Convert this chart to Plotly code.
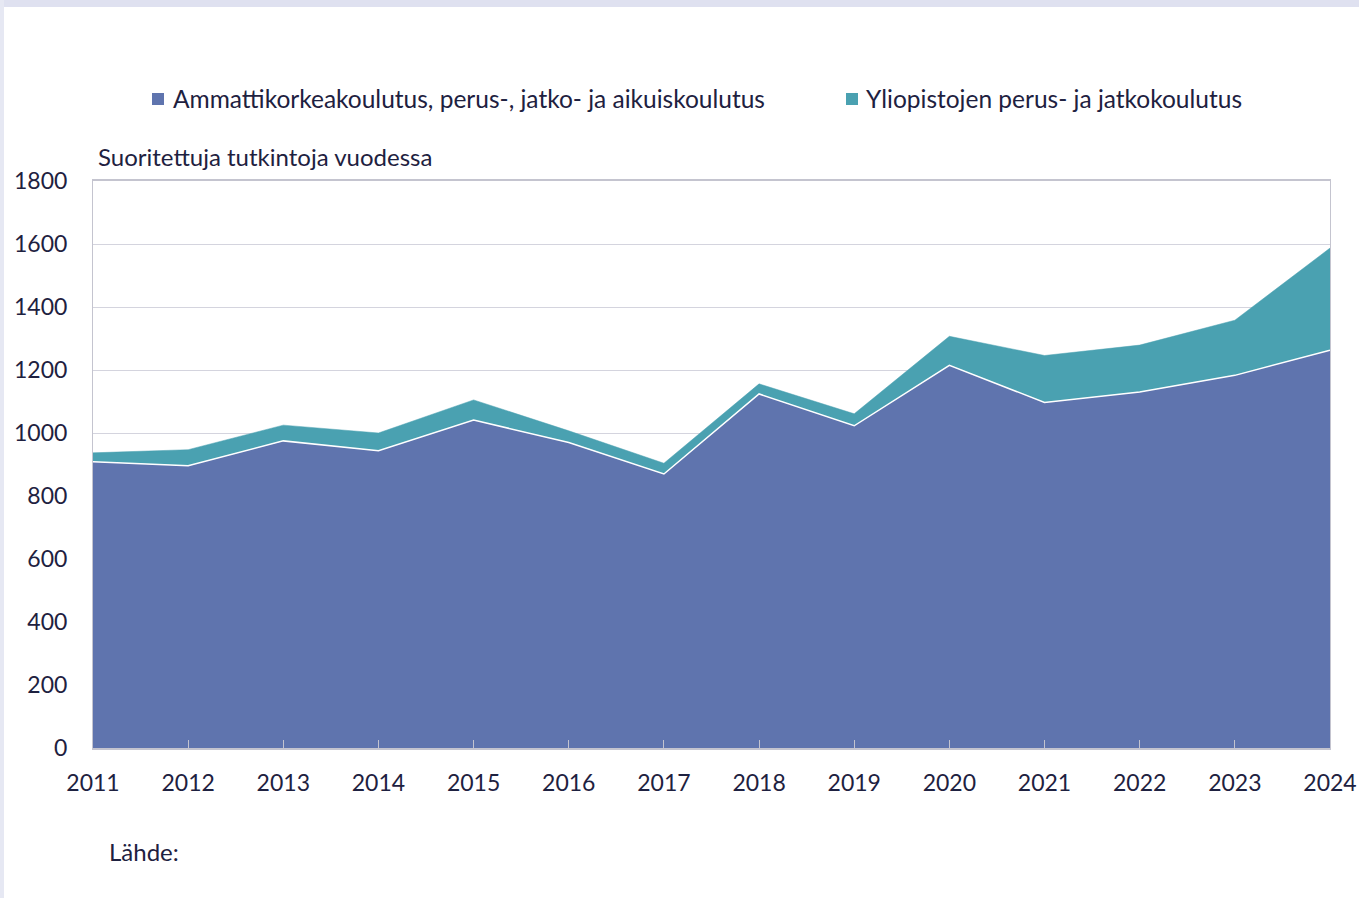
import plotly.graph_objects as go

years = [2011, 2012, 2013, 2014, 2015, 2016, 2017, 2018, 2019, 2020, 2021, 2022, 2023, 2024]
amk = [909, 896, 975, 944, 1041, 970, 870, 1124, 1023, 1215, 1097, 1130, 1183, 1263]
yliopisto = [28, 51, 50, 56, 64, 37, 34, 32, 38, 92, 149, 149, 175, 324]

name_amk = "Ammattikorkeakoulutus, perus-, jatko- ja aikuiskoulutus"
name_yo = "Yliopistojen perus- ja jatkokoulutus"
y_title = "Suoritettuja tutkintoja vuodessa"
source_text = "Lähde:"

c_amk = "#5f74ae"
c_yo = "#4aa1b1"
txt = "#1e2140"
grid = "#d4d4de"
FONT = "Lato, Open Sans, sans-serif"

fig = go.Figure()
fig.add_trace(go.Scatter(x=years, y=amk, name=name_amk, stackgroup="one",
                         mode="lines", line=dict(color="white", width=1.5),
                         fillcolor=c_amk, showlegend=False))
fig.add_trace(go.Scatter(x=years, y=yliopisto, name=name_yo, stackgroup="one",
                         mode="lines", line=dict(color=c_yo, width=0.5),
                         fillcolor=c_yo, showlegend=False))

W, H = 1359, 898
L, R, T, B = 93, 29, 181, 150
pw, ph = W - L - R, H - T - B

def px(x):
    return (x - L) / pw

def py(y):
    return (H - B - y) / ph

shapes = [
    # page frame
    dict(type="rect", xref="paper", yref="paper", x0=px(0), x1=px(W), y0=py(0), y1=py(7),
         fillcolor="#dfe1f0", line=dict(width=0), layer="below"),
    dict(type="rect", xref="paper", yref="paper", x0=px(0), x1=px(4), y0=py(H), y1=py(0),
         fillcolor="#e6e8f3", line=dict(width=0), layer="below"),
    # legend squares
    dict(type="rect", xref="paper", yref="paper", x0=px(152), x1=px(164), y0=py(105), y1=py(93),
         fillcolor=c_amk, line=dict(width=0)),
    dict(type="rect", xref="paper", yref="paper", x0=px(846), x1=px(858), y0=py(105), y1=py(93),
         fillcolor=c_yo, line=dict(width=0)),
]

annotations = [
    dict(text=name_amk, xref="paper", yref="paper", x=px(171), y=py(99), xanchor="left",
         yanchor="middle", showarrow=False, font=dict(size=24.5, color=txt, family=FONT)),
    dict(text=name_yo, xref="paper", yref="paper", x=px(864), y=py(99), xanchor="left",
         yanchor="middle", showarrow=False, font=dict(size=24.5, color=txt, family=FONT)),
    dict(text=y_title, xref="paper", yref="paper", x=px(96), y=py(156), xanchor="left",
         yanchor="middle", showarrow=False, font=dict(size=24, color=txt, family=FONT)),
    dict(text=source_text, xref="paper", yref="paper", x=px(107), y=py(851), xanchor="left",
         yanchor="middle", showarrow=False, font=dict(size=24, color=txt, family=FONT)),
]

fig.update_layout(
    width=W, height=H, autosize=False,
    margin=dict(l=L, r=R, t=T, b=B, pad=0),
    paper_bgcolor="white", plot_bgcolor="white",
    font=dict(family=FONT, color=txt, size=23),
    shapes=shapes, annotations=annotations,
    showlegend=False,
)
fig.update_xaxes(range=[2011, 2024], tickmode="array", tickvals=years,
                 ticktext=[str(y) for y in years], automargin=False,
                 showgrid=False, showline=True, linecolor="#c4c4cf", linewidth=1.5,
                 mirror=True, ticks="inside", ticklen=8, tickcolor="#c4c4cf",
                 ticklabelstandoff=14, ticklabeloverflow="allow",
                 tickfont=dict(size=23, color=txt), zeroline=False)
fig.update_yaxes(range=[0, 1800], tickvals=list(range(0, 1801, 200)), automargin=False,
                 showgrid=True, gridcolor=grid, gridwidth=1,
                 showline=True, linecolor="#c4c4cf", linewidth=1, mirror=True,
                 ticks="outside", ticklen=20, tickcolor="rgba(0,0,0,0)",
                 tickfont=dict(size=23, color=txt), zeroline=False)

fig.write_html("out.html",
               config={"responsive": False, "displayModeBar": False},
               post_script="document.body.style.margin='0';document.body.style.overflow='hidden';")
